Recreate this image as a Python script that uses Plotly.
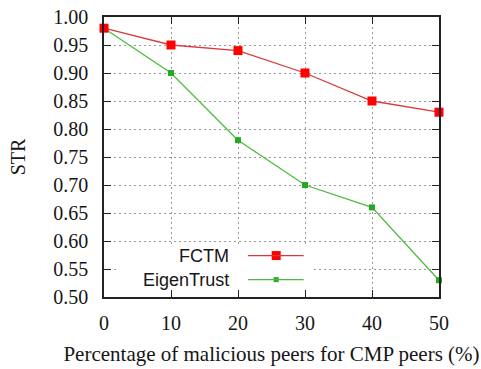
import plotly.graph_objects as go

# Percentage of malicious peers (x) and STR for each trust model
malicious_pct = [0, 10, 20, 30, 40, 50]
fctm_str = [0.98, 0.95, 0.94, 0.90, 0.85, 0.83]
eigentrust_str = [0.98, 0.90, 0.78, 0.70, 0.66, 0.53]
x_ticks = [0, 10, 20, 30, 40, 50]
y_ticks = [0.50, 0.55, 0.60, 0.65, 0.70, 0.75, 0.80, 0.85, 0.90, 0.95, 1.00]

RED_LINE = "#d8393c"
RED_MARK = "#ff0000"
GREEN_LINE = "#4dbb3f"
GREEN_MARK = "#22aa22"
SERIF = "Liberation Serif"
SANS = "Liberation Sans"
TEXT = "#161616"

fig = go.Figure()
fig.add_trace(go.Scatter(
    x=malicious_pct, y=eigentrust_str, mode="lines+markers", name="EigenTrust",
    line=dict(color=GREEN_LINE, width=1.3),
    marker=dict(symbol="square", size=6, color=GREEN_MARK),
    cliponaxis=False, showlegend=False,
))
fig.add_trace(go.Scatter(
    x=malicious_pct, y=fctm_str, mode="lines+markers", name="FCTM",
    line=dict(color=RED_LINE, width=1.3),
    marker=dict(symbol="square", size=9, color=RED_MARK),
    cliponaxis=False, showlegend=False,
))

# Key box in the lower-left corner (labels to the left of the samples)
fig.add_shape(type="rect", xref="x", yref="y", x0=1.9, x1=31, y0=0.508, y1=0.593,
              fillcolor="white", line=dict(width=0), layer="between")
key_rows = [("FCTM", 0.574, RED_LINE, RED_MARK, 9),
            ("EigenTrust", 0.531, GREEN_LINE, GREEN_MARK, 5)]
for label, yk, lc, mc, ms in key_rows:
    fig.add_annotation(x=18.9, y=yk, xref="x", yref="y", text=label, showarrow=False,
                       xanchor="right", yanchor="middle",
                       font=dict(family=SANS, size=18, color=TEXT))
    fig.add_shape(type="line", xref="x", yref="y", x0=21.5, x1=29.8, y0=yk, y1=yk,
                  line=dict(color=lc, width=1.3))
    fig.add_trace(go.Scatter(x=[25.7], y=[yk], mode="markers", showlegend=False,
                             marker=dict(symbol="square", size=ms, color=mc),
                             hoverinfo="skip"))

axis_common = dict(
    showline=True, linecolor="#222", linewidth=1.5, mirror="ticks",
    ticks="inside", ticklen=7, tickwidth=1.3, tickcolor="#222",
    showgrid=True, gridcolor="#9a9a9a", gridwidth=1, griddash="2px,3px",
    zeroline=False, tickfont=dict(family=SERIF, size=20, color=TEXT),
)

fig.update_xaxes(range=[0, 50], tickvals=x_ticks, ticktext=[str(v) for v in x_ticks],
                 ticklabelstandoff=7,
                 title=dict(text="Percentage of malicious peers for CMP peers (%)",
                            font=dict(family=SERIF, size=21, color=TEXT), standoff=14),
                 **axis_common)
fig.update_yaxes(range=[0.5, 1.0], tickvals=y_ticks,
                 ticktext=[f"{v:.2f}" for v in y_ticks],
                 ticklabelstandoff=10,
                 title=dict(text="STR", font=dict(family=SERIF, size=20, color=TEXT),
                            standoff=22),
                 **axis_common)

fig.update_layout(
    width=481, height=369,
    margin=dict(l=104, r=42, t=17, b=72, autoexpand=False),
    paper_bgcolor="white", plot_bgcolor="white",
    showlegend=False,
)

fig.write_html("out.html")
